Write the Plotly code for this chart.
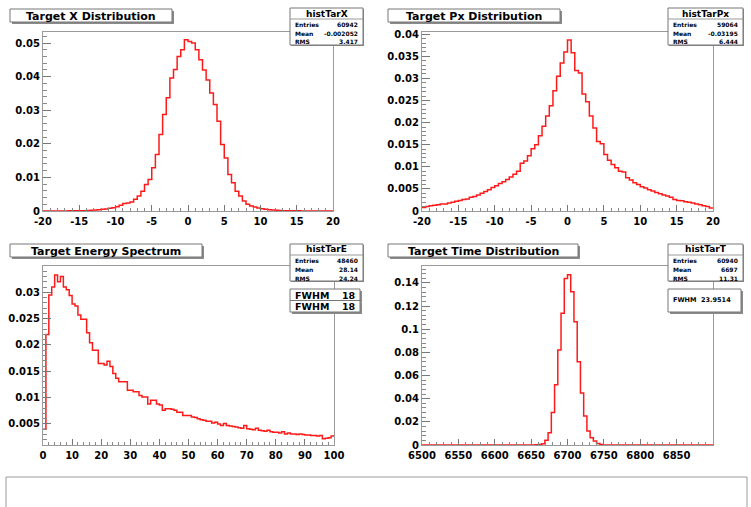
import plotly.graph_objects as go

W, H = 751, 507

# ---------------- data ----------------
tarx_range = (-20.0, 20.0)
tarx_values = [
    0.00001, 0.00001, 0.00001, 0.00001, 0.00002, 0.00002, 0.00003, 0.00004, 0.00005, 0.00006,
    0.00008, 0.0001, 0.00015, 0.0002, 0.0003, 0.0004, 0.0005, 0.0006, 0.0008, 0.0010,
    0.0013, 0.0017, 0.0022, 0.0024, 0.0027, 0.0035, 0.0045, 0.0059, 0.0079, 0.0094,
    0.0129, 0.0168, 0.0228, 0.0287, 0.0337, 0.0396, 0.0421, 0.0460, 0.0480, 0.0510,
    0.0505, 0.0500, 0.0480, 0.0450, 0.0420, 0.0390, 0.0351, 0.0317, 0.0267, 0.0198,
    0.0158, 0.0109, 0.0084, 0.0059, 0.0045, 0.0030, 0.0020, 0.0015, 0.0012, 0.0009,
    0.0007, 0.0005, 0.0004, 0.0003, 0.0002, 0.00015, 0.0001, 0.00008, 0.00006, 0.00005,
    0.00004, 0.00003, 0.00003, 0.00002, 0.00002, 0.00002, 0.00001, 0.00001, 0.00001, 0.00001,
]

tarpx_range = (-20.0, 20.0)
tarpx_values = [
    0.0008, 0.0010, 0.0012, 0.0013, 0.0014, 0.0016, 0.0016, 0.0018, 0.0020, 0.0022,
    0.0024, 0.0026, 0.0027, 0.0031, 0.0033, 0.0036, 0.0040, 0.0044, 0.0048, 0.0053,
    0.0057, 0.0062, 0.0066, 0.0071, 0.0077, 0.0083, 0.0090, 0.0108, 0.0113, 0.0125,
    0.0141, 0.0150, 0.0170, 0.0192, 0.0215, 0.0238, 0.0272, 0.0305, 0.0335, 0.0360,
    0.0387, 0.0358, 0.0318, 0.0312, 0.0265, 0.0247, 0.0215, 0.0188, 0.0157, 0.0152,
    0.0128, 0.0115, 0.0105, 0.0098, 0.0090, 0.0088, 0.0075, 0.0070, 0.0064, 0.0060,
    0.0055, 0.0052, 0.0048, 0.0045, 0.0042, 0.0039, 0.0036, 0.0034, 0.0031, 0.0026,
    0.0024, 0.0023, 0.0021, 0.0020, 0.0018, 0.0016, 0.0014, 0.0012, 0.0010, 0.0007,
]

tare_range = (0.0, 100.0)
tare_values = [
    0.0040, 0.0220, 0.0295, 0.0310, 0.0333, 0.0320, 0.0330, 0.0310, 0.0305, 0.0294,
    0.0278, 0.0274, 0.0257, 0.0249, 0.0249, 0.0223, 0.0204, 0.0190, 0.0190, 0.0165,
    0.0165, 0.0162, 0.0169, 0.0159, 0.0146, 0.0137, 0.0130, 0.0130, 0.0130, 0.0114,
    0.0114, 0.0111, 0.0111, 0.0104, 0.0101, 0.0101, 0.0088, 0.0095, 0.0095, 0.0088,
    0.0086, 0.0076, 0.0079, 0.0079, 0.0078, 0.0076, 0.0072, 0.0072, 0.0066, 0.0066,
    0.0066, 0.0063, 0.0062, 0.0060, 0.0058, 0.0057, 0.0055, 0.0055, 0.0052, 0.0053,
    0.0050, 0.0047, 0.0051, 0.0047, 0.0046, 0.0045, 0.0044, 0.0043, 0.0042, 0.0047,
    0.0041, 0.0040, 0.0039, 0.0042, 0.0038, 0.0037, 0.0036, 0.0038, 0.0035, 0.0034,
    0.0034, 0.0033, 0.0035, 0.0031, 0.0033, 0.0031, 0.0031, 0.0030, 0.0031, 0.0030,
    0.0029, 0.0029, 0.0028, 0.0028, 0.0027, 0.0028, 0.0022, 0.0023, 0.0024, 0.0027,
]

tart_range = (6500.0, 6900.0)
tart_values = [
    0, 0, 0, 0, 0, 0, 0, 0, 0, 0,
    0, 0, 0, 0, 0, 0, 0, 0, 0, 0,
    0, 0, 0, 0, 0, 0, 0, 0, 0, 0,
    0, 0, 0, 0, 0, 0.0002, 0.0004, 0.0010, 0.0040, 0.0106,
    0.0280, 0.0520, 0.0820, 0.1137, 0.1438, 0.1470, 0.1323, 0.1065, 0.0720, 0.0450,
    0.0250, 0.0120, 0.0063, 0.0035, 0.0012, 0.0004, 0.0001, 0, 0, 0,
    0, 0, 0, 0, 0, 0, 0, 0, 0, 0,
    0, 0, 0, 0, 0, 0, 0, 0, 0, 0,
    0, 0, 0, 0, 0, 0, 0, 0, 0, 0,
]

# tick labels
tarx_xticks = [-20, -15, -10, -5, 0, 5, 10, 15, 20]
tarx_xlabels = ["-20", "-15", "-10", "-5", "0", "5", "10", "15", "20"]
tarx_yticks = [0, 0.01, 0.02, 0.03, 0.04, 0.05]
tarx_ylabels = ["0", "0.01", "0.02", "0.03", "0.04", "0.05"]

tarpx_xticks = tarx_xticks
tarpx_xlabels = tarx_xlabels
tarpx_yticks = [0, 0.005, 0.01, 0.015, 0.02, 0.025, 0.03, 0.035, 0.04]
tarpx_ylabels = ["0", "0.005", "0.01", "0.015", "0.02", "0.025", "0.03", "0.035", "0.04"]

tare_xticks = [0, 10, 20, 30, 40, 50, 60, 70, 80, 90, 100]
tare_xlabels = ["0", "10", "20", "30", "40", "50", "60", "70", "80", "90", "100"]
tare_yticks = [0.005, 0.01, 0.015, 0.02, 0.025, 0.03]
tare_ylabels = ["0.005", "0.01", "0.015", "0.02", "0.025", "0.03"]

tart_xticks = [6500, 6550, 6600, 6650, 6700, 6750, 6800, 6850]
tart_xlabels = ["6500", "6550", "6600", "6650", "6700", "6750", "6800", "6850"]
tart_yticks = [0, 0.02, 0.04, 0.06, 0.08, 0.1, 0.12, 0.14]
tart_ylabels = ["0", "0.02", "0.04", "0.06", "0.08", "0.1", "0.12", "0.14"]

titles = ["Target X Distribution", "Target Px Distribution",
          "Target Energy Spectrum", "Target Time Distribution"]
stat_names = ["histTarX", "histTarPx", "histTarE", "histTarT"]
stat_entries = ["60942", "59064", "48460", "60940"]
stat_means = ["-0.002052", "-0.03195", "28.14", "6697"]
stat_rms = ["3.417", "6.444", "24.24", "11.31"]
fwhm_energy = ["FWHM  18", "FWHM  18"]
fwhm_time = "FWHM  23.9514"

# ---------------- layout helpers ----------------
def px(x):
    return x / W

def py(y):
    return 1 - y / H

FONT = "DejaVu Sans"
LINE_COL = "#9a9a9a"
RED = "#ff1a1a"

def steps(rng, vals):
    lo, hi = rng
    n = len(vals)
    w = (hi - lo) / n
    xs = [lo + i * w for i in range(n + 1)]
    ys = list(vals) + [vals[-1]]
    return xs, ys

# frames in pixels: (x0, x1, y_top, y_bottom)
frames = [(43, 333, 32, 211), (422, 713, 32, 211), (43, 334, 266, 445), (422, 713, 266, 445)]
data_sets = [
    (tarx_range, tarx_values, [0, 0.0533], tarx_xticks, tarx_xlabels, tarx_yticks, tarx_ylabels, 1, 0.002),
    (tarpx_range, tarpx_values, [0, 0.0405], tarpx_xticks, tarpx_xlabels, tarpx_yticks, tarpx_ylabels, 1, 0.001),
    (tare_range, tare_values, [0.001, 0.035], tare_xticks, tare_xlabels, tare_yticks, tare_ylabels, 2, 0.001),
    (tart_range, tart_values, [0, 0.1546], tart_xticks, tart_xlabels, tart_yticks, tart_ylabels, 10, 0.004),
]

fig = go.Figure()
layout = dict(
    width=W, height=H,
    margin=dict(l=0, r=0, t=0, b=0, autoexpand=False),
    paper_bgcolor="white", plot_bgcolor="white",
    showlegend=False,
)

for i, (fr, ds) in enumerate(zip(frames, data_sets)):
    rng, vals, yr, xt, xl, yt, yl, xminor, yminor = ds
    x0, x1, yt_px, yb_px = fr
    sfx = "" if i == 0 else str(i + 1)
    xs, ys = steps(rng, vals)
    fig.add_trace(go.Scatter(
        x=xs, y=ys, mode="lines", line=dict(color=RED, width=1.5, shape="hv"),
        xaxis="x" + sfx, yaxis="y" + sfx, hoverinfo="skip",
    ))
    tickfont = dict(family=FONT, size=10, color="black", weight="bold")
    layout["xaxis" + sfx] = dict(
        domain=[px(x0), px(x1)], range=list(rng), anchor="y" + sfx, automargin=False,
        showgrid=False, zeroline=False, showline=True, linecolor=LINE_COL, linewidth=1, mirror=True,
        ticks="inside", ticklen=6, tickcolor="#777", tickwidth=1,
        tickvals=xt, ticktext=xl, tickfont=tickfont, ticklabelstandoff=1,
        minor=dict(ticks="inside", ticklen=3, tickcolor="#888", dtick=xminor, showgrid=False),
    )
    layout["yaxis" + sfx] = dict(
        domain=[py(yb_px), py(yt_px)], range=yr, anchor="x" + sfx, automargin=False,
        showgrid=False, zeroline=False, showline=True, linecolor=LINE_COL, linewidth=1, mirror=True,
        ticks="inside", ticklen=8, tickcolor="#777", tickwidth=1,
        tickvals=yt, ticktext=yl, tickfont=tickfont, ticklabelstandoff=0,
        minor=dict(ticks="inside", ticklen=4, tickcolor="#888", dtick=yminor, showgrid=False),
    )

shapes = []
annotations = []

def box(x0, y0, x1, y1, shadow=2, border="#777"):
    if shadow:
        shapes.append(dict(type="rect", xref="paper", yref="paper",
                           x0=px(x0 + shadow), x1=px(x1 + shadow), y0=py(y1 + shadow), y1=py(y0 + shadow),
                           fillcolor="#8a8a8a", line=dict(width=0), layer="above"))
    shapes.append(dict(type="rect", xref="paper", yref="paper",
                       x0=px(x0), x1=px(x1), y0=py(y1), y1=py(y0),
                       fillcolor="white", line=dict(color=border, width=1), layer="above"))

def text(x, y, s, size, anchor="center", bold=True):
    annotations.append(dict(xref="paper", yref="paper", x=px(x), y=py(y), text=s,
                            showarrow=False, xanchor=anchor, yanchor="middle",
                            font=dict(family=FONT, size=size, color="black",
                                      weight="bold" if bold else "normal")))

# title boxes (x0, x1, y0, y1)
title_boxes = [(10, 172, 9, 22), (388, 560, 9, 22), (10, 202, 244, 257), (388, 578, 244, 257)]
for (x0, x1, y0, y1), t in zip(title_boxes, titles):
    box(x0, y0, x1, y1)
    text((x0 + x1) / 2, (y0 + y1) / 2 + 0.5, t, 11)

# stat boxes
stat_boxes = [(290, 363, 8, 45), (668, 743, 8, 45), (290, 363, 244, 281), (668, 743, 244, 281)]
for (x0, x1, y0, y1), nm, en, mn, rm in zip(stat_boxes, stat_names, stat_entries, stat_means, stat_rms):
    box(x0, y0, x1, y1, shadow=1)
    shapes.append(dict(type="line", xref="paper", yref="paper",
                       x0=px(x0), x1=px(x1), y0=py(y0 + 11), y1=py(y0 + 11),
                       line=dict(color="#999", width=1), layer="above"))
    text((x0 + x1) / 2, y0 + 5.5, nm, 9)
    for k, (lab, val) in enumerate([("Entries", en), ("Mean", mn), ("RMS", rm)]):
        yy = y0 + 16 + k * 9
        text(x0 + 3, yy, lab, 6, anchor="left")
        text(x1 - 3, yy, val, 6, anchor="right")

# FWHM boxes (energy)
for k, s in enumerate(fwhm_energy):
    y0 = 289 + k * 11.5
    box(290, y0, 360, y0 + 11.5, shadow=2)
    text(293, y0 + 6, s.split("  ")[0], 9.5, anchor="left")
    text(358, y0 + 6, s.split("  ")[1], 9.5, anchor="right")

# FWHM box (time)
box(668, 289, 741, 312, shadow=2)
text(671, 300, fwhm_time.replace("  ", "&nbsp;&nbsp;"), 6.5, anchor="left")

# bottom pad box
box(6, 477, 747, 520, shadow=0, border="#9a9a9a")

layout["shapes"] = shapes
layout["annotations"] = annotations
fig.update_layout(**layout)
fig.write_html(
    "out.html",
    config={"displayModeBar": False},
    post_script="document.body.style.margin='0';document.body.style.overflow='hidden';",
)
